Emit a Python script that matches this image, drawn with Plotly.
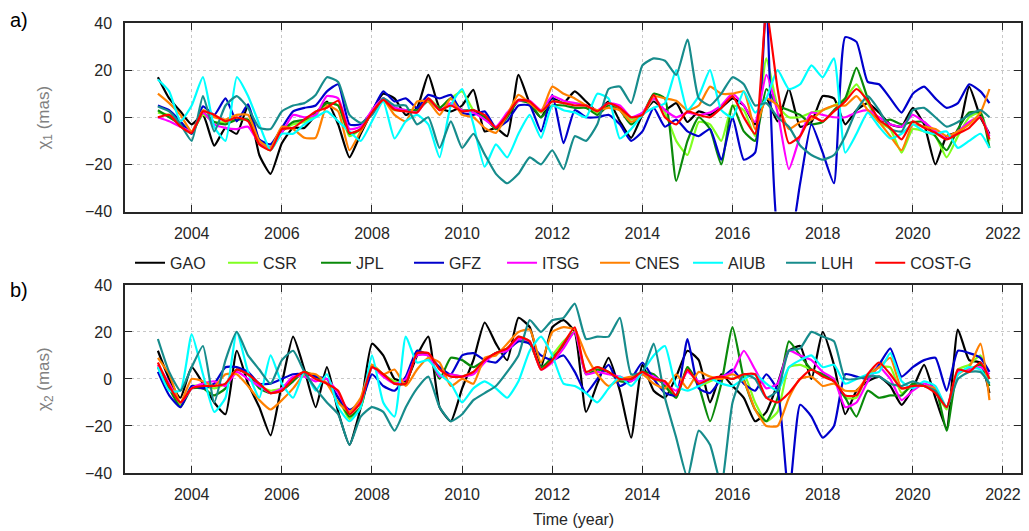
import plotly.graph_objects as go
from plotly.subplots import make_subplots

time = [2003.25, 2003.5, 2003.75, 2004.0, 2004.25, 2004.5, 2004.75, 2005.0, 2005.25, 2005.5,
        2005.75, 2006.0, 2006.25, 2006.5, 2006.75, 2007.0, 2007.25, 2007.5, 2007.75, 2008.0,
        2008.25, 2008.5, 2008.75, 2009.0, 2009.25, 2009.5, 2009.75, 2010.0, 2010.25, 2010.5,
        2010.75, 2011.0, 2011.25, 2011.5, 2011.75, 2012.0, 2012.25, 2012.5, 2012.75, 2013.0,
        2013.25, 2013.5, 2013.75, 2014.0, 2014.25, 2014.5, 2014.75, 2015.0, 2015.25, 2015.5,
        2015.75, 2016.0, 2016.25, 2016.5, 2016.75, 2017.0, 2017.25, 2017.5, 2017.75, 2018.0,
        2018.25, 2018.5, 2018.75, 2019.0, 2019.25, 2019.5, 2019.75, 2020.0, 2020.25, 2020.5,
        2020.75, 2021.0, 2021.25, 2021.5, 2021.7]

centres = ["GAO", "CSR", "JPL", "GFZ", "ITSG", "CNES", "AIUB", "LUH", "COST-G"]

# ---- chi1 (panel a) ----
gao_a = [17, 8, 2.5, -3, 1, -12, -4.5, -7, 5, -16, -24, -11, -4.5, -4.5, 1, 6.7, -3,
         -17, -7, 2.5, 10, 8, 1, 4, 18, 4, 2.5, 5, 11.6, -6, -4.5, -8, 18, 6, 0, 8,
         6, 11, 6.7, 2.5, 6.7, -1.7, -8.7, 1, 6.7, 3, 6, -2, 2.5, 1, 4, 8, 5, -3, 8, -1.7,
         12, -4, -2, 9, 8, -3, 3, 6, 2, -3, -4, 4, -3, -20, -8, -6, 13, 0, -7]
csr_a = [2, 1, -2, -6, 1, -2, -2, -1, -1, -11, -14, -6, -3, -2, 1, 6, 5,
         -8, -5, 2, 7, 3, 3, 3, 8, 4, 8, 11, 3, 0, -5, 1, 7, 6, 2, 7,
         6, 6, 5, 2, 6, 4, -1, 1, 8, 2, -10, -16, -2, -3, -10, 5, 3, -8, 25, 5,
         0, 0, 2, 3, 5, 8, 14, 6, -2, -5, -15, -5, -6, -8, -17, -8, 0, 2, -10]
jpl_a = [3, 0, -3, -7, 2, -2, -3, -1, -1, -10, -13, -6, -2, -1, 2, 6, 5,
         -7, -5, 2, 8, 4, 3, 3, 7, 4, 8, 3, 3, 0, -5, 0, 7, 6, 0, 5,
         5, 4, 4, 1, 5, 3, -3, 1, 10, 8, -27, -10, 0, -5, -20, 5, -6, -10, 12, 5,
         3, 1, -3, -2, 3, 8, 21, 8, -2, -1, -3, -2, -2, -8, -14, -5, 2, 2, -13]
gfz_a = [5, 3, -1.7, -7, 4.6, 1, 8, -1.7, 5.5, -9.4, -11.5, -4.5, 2.5, 4, 5, 11, 14,
         -3, -3, 2.5, 11, 6.7, 8, 4, 9.5, 8, 9.5, 2, 1, 2.5, -4.5, -1.7, 5, 5, -6, 9.5,
         -11, 3, 0, 0, 1, -3, -10, -6, 4, -4, -1, -6, -8, -5, -18, 0, -18, -15, 48, -48,
         -55, -28, -3, -15, -28, 34, 32, 15, 14, 8, 2, 10, 13, 8, 4, 6, 14, 11, 6]
itsg_a = [0, -1.7, -4, -6, 2, -3, -4.5, -5, -4, -11, -13, -6.6, 1, 0, 1, 9, 8,
          -5, -4, 3, 8, 4, 3, 2, 8, 3, 6, 3, 2, -1, -4, 2, 7, 7, 3, 9,
          7, 6, 5, 3, 6, 5, 0, 2, 8, 3, 0, 2, 1, 2, 5, 10, 5, -2, 18, 2,
          -22, -8, 2, 1, 0, 0, 2, 3, 0, -3, -4, 1, -2, -6, -9, -6, -2, 0, -8]
cnes_a = [10, 6, 1, -6, 3, 0, -1, 1, 1, -10, -13, -4, -5, -8.7, -8.7, 5, 2.5,
          -14, -6, 2, 7.4, 1, -1.7, 6.7, 6.7, 1, 8, 1, 0, -4.5, -6.6, 1, 9.5, 6, 2.5, 13,
          10, 8, 5, 3, 4, 3, -2, 1, 9, 8, 7, 3, 5, 13, 10, 10, 11, -5, 8, 5,
          -5, -2, -1, 3, 5, 5, 9, 3, -2, -8, -14, -3, -4, -5, -8, -6, -3, 2, 12]
aiub_a = [16, 11, -1.7, 5, 17, -4, -10, 17, 9, -3, -14, -7, -7, -3, 0, 2.5, -1.7,
          -6, -10, -1.7, 6.7, -9, -1.7, 1, -3, -17, 5, 12, -3, -21, -11.5, -17, -7, 1, -8.7, 5,
          3, 2, 0, 10, 8, -9, -5, 1, 4, 6, 20, 3, 9, 20, 3, 0, 11, 2, 8, 20,
          12, 14, 22, 17, 25, -15, -7, 2, -4, -9, -7, -3, -6, -7, -6, -13, -10, -7, -13]
luh_a = [4.6, 2.5, -3, -10, 9, -6, 5, 9, 4, -4.5, -5, 2.5, 5, 6, 9.5, 17, 15,
         1, -2.4, 1, 8, 5, 5, -3, 0, -13, -1.7, -13, -7, -15.7, -24, -28, -24, -17, -20, -14,
         -22, -8, -10, -3, 12, 13, 6, 22, 25, 24, 18, 33, 8, 5, 10, 17, 14, 5, 6, 0,
         -4, -12, -16, -18, -16, -8, 3, 9, 3, -5, -6, 3, 4, 0, -4, -2, 1, 3, 0]
costg_a = [0, 1, -4, -6.6, 2.5, 1, -1.7, 0, -1.7, -11.5, -14, -5, -4.5, -1, 2.5, 4, 7,
           -6.6, -5, 2, 7.4, 3.2, 2.5, 2, 8, 3, 5, 2.5, 3, 1, -4.5, 1, 7.4, 6.7, 2.5, 6.7,
           6, 5, 5, 2.5, 6, 4, 0, 1, 9.5, 0, -3, 2.5, 1, 0, 4, 9, 0, -7, 45, 12,
           -11, -8, 0.5, -1.7, 2.5, 6.7, 12, 7, -1, -4.5, -9.4, -1.7, -4.5, -6.6, -9.4, -7, -4.5, 0, -9.4]

# ---- chi2 (panel b) ----
gao_b = [12, 0, -8, 5, -2, -10, -15, 12, -2, -12, -24, -2, 18, 4, -12, 5, -14,
         -28, -12, 15, 10, 0, -1, 10, 18, -12, -18, -4, 8, 24, 15, 8, 26, 22, 5, 22,
         25, 20, -14, -2, 9, -5, -25, 6, -5, -8, 1, 12, 8, -10, 2, -3, -8, -18, -14, -2,
         12, 14, 0, 20, 6, -15, -5, -1, 1, -3, -11, -4, 6, -8, -21, 21, 8, 7, -6]
csr_b = [6, -3, -11, -3, -3, -4, -2, 4, 2, -3, -5, -4, 0, 3, 1, -2, -8,
         -17, -12, 6, 2, -1, -2, 12, 10, 1, 2, 1, 3, 8, 11, 12, 18, 16, 4, 10,
         16, 20, 3, 5, 3, 0, 0, 2, 0, -2, -8, 5, -3, -1, 1, 0, 2, -10, -18, -14,
         5, 6, 4, 2, 0, -8, -8, 2, 5, 5, -6, -3, -3, -5, -13, 4, 6, 10, 0]
jpl_b = [5, -4, -12, -4, -4, -7, -4, 4, 2, -4, -6, -5, -1, 3, 1, -2, -8,
         -16, -12, 5, 2, -2, -2, 11, 10, 0, 9, 8, 5, 8, 11, 13, 17, 15, 5, 9,
         14, 20, 2, 4, 3, -1, -1, 3, 2, -3, -8, 5, -3, -18, -2, 22, 0, -13, -18, -8,
         16, 10, 4, 2, -1, -8, -16, -5, -8, -7, -7, -2, -3, -4, -22, 3, 4, 6, -3]
gfz_b = [3, -7, -12, -3, -4, -2, 5, 5, 3, -2, -2, 0, 2, 2, 1, 0, -8,
         -13, -10, 2, -3, -5, 1, 12, 10, 5, 2, 10, 11, 8, 7, 12, 16, 15, 10, 8,
         10, 3, -6, 0, 6, -3, 0, 7, 0, -6, -7, 17, -4, -6, 0, 4, -2, -5, 2, -5,
         -50, -11, -16, -25, -20, 2, 1, 0, 6, 13, 1, 5, 8, 9, -5, 12, 11, 9, 3]
itsg_b = [6, -2, -10, -4, -2, -1, -3, 3, 0, -3, -6, -4, 1, 1, -1, 0, -6,
          -14, -9, 5, 1, -2, 0, 10, 10, 1, 2, 1, 2, 7, 11, 12, 17, 16, 4, 7,
          13, 20, 2, 3, 2, 1, -1, 2, 1, -2, -5, 3, -1, 0, 1, 3, 12, 4, -4, -2,
          12, 10, 8, 3, 0, -12, -10, -1, 5, 0, -9, -5, -2, -4, -12, 3, 4, 5, 2]
cnes_b = [9, 2, -10, 0, -1, -3, 2, 2, -3, -9, -13, -9, -4, 2, 2, -2, -10,
          -14, -8, 6, 2, 4, -3, 4, 9, 7, -3, 0, -2, 9, 10, 15, 20, 21, 7, 20,
          22, 21, 10, 2, -3, 0, 1, 2, -2, -4, 2, -4, 3, 1, 0, 2, -1, -13, -20, -20,
          -8, 0, 1, -3, -2, -5, -5, 1, 5, 9, -4, -3, -3, -4, -12, 2, 5, 15, -9]
aiub_b = [5, -5, -5, 19, 2, -14, -8, 20, 3, -8, 10, -2, -8, 3, -5, 2, -12,
          -18, -12, 10, -10, -16, 18, 7, 8, 2, -2, -10, -4, -1, -4, -8, -1, 12, 18, 10,
          -2, -3, -6, -10, -4, 1, -3, 3, 10, 14, -3, -5, -3, 0, -2, -3, 0, 2, -2, -5,
          5, 8, 10, 5, 6, -2, 0, 2, 3, 11, -1, -4, -1, -3, -12, 2, 5, 4, -2]
luh_b = [17, 3, -5, 5, 14, -10, 8, 20, 10, 4, -2, 8, 12, 3, -4, -10, -15,
         -28, -16, -12, -14, -22, -12, -4, 1, -12, -18, -15, -9, -6, -3, 3, 10, 25, 20, 25,
         26, 32, 17, 18, 18, 26, 2, 3, 15, -8, -25, -42, -22, -28, -45, -10, 2, 0, -8, -5,
         12, 13, 20, 18, 16, 0, 0, 1, 1, -2, -3, -1, -3, -5, -12, 0, 3, 3, -2]
costg_b = [7, -3, -10, -4, -3, -3, -2, 4, 2, -2, -6, -5, 0, 3, 0, -2, -5,
           -15, -10, 5, 2, -2, -2, 11, 11, 4, 1, 1, 3, 8, 11, 13, 18, 16, 4, 8,
           15, 22, 3, 5, 3, 0, 0, 3, 0, -1, -7, 4, -2, 0, 1, 0, 2, 2, -8, -10,
           -6, 0, 4, 1, -1, -7, -7, 2, 7, 2, -4, -3, -3, -6, -12, 4, 3, 7, 0]

colors = ["#000000", "#80FF20", "#0A8A0A", "#0000CC", "#FF00FF",
          "#FF8000", "#00FFFF", "#178C8C", "#FF0000"]

chi1 = [gao_a, csr_a, jpl_a, gfz_a, itsg_a, cnes_a, aiub_a, luh_a, costg_a]
chi2 = [gao_b, csr_b, jpl_b, gfz_b, itsg_b, cnes_b, aiub_b, luh_b, costg_b]

year_ticks = [2004, 2006, 2008, 2010, 2012, 2014, 2016, 2018, 2020, 2022]
y_ticks = [-40, -20, 0, 20, 40]

FONT = "Arial, Liberation Sans, sans-serif"
AX = "#262626"

fig = make_subplots(rows=2, cols=1, vertical_spacing=0.163)

for name, col, ya, yb in zip(centres, colors, chi1, chi2):
    lg = "legend2" if name == "COST-G" else "legend"
    fig.add_trace(go.Scatter(x=time, y=ya, mode="lines", name=name, legendgroup=name,
                             legend=lg,
                             line=dict(color=col, width=2.2, shape="spline", smoothing=0.5)),
                  row=1, col=1)
    fig.add_trace(go.Scatter(x=time, y=yb, mode="lines", name=name, legendgroup=name,
                             showlegend=False, legend=lg,
                             line=dict(color=col, width=2.2, shape="spline", smoothing=0.5)),
                  row=2, col=1)

axis_common = dict(showline=True, linecolor=AX, linewidth=1.5, mirror="ticks",
                   ticks="inside", ticklen=7, tickwidth=1.3, tickcolor=AX,
                   showgrid=True, gridcolor="#c8c8c8", griddash="dot", gridwidth=1,
                   zeroline=False, tickfont=dict(family=FONT, size=16, color=AX))

for r in (1, 2):
    fig.update_xaxes(range=[2002.52, 2022.4], tickvals=year_ticks,
                     ticklabelstandoff=6, row=r, col=1, **axis_common)
    fig.update_yaxes(range=[-40, 40], tickvals=y_ticks, ticklabelstandoff=8,
                     row=r, col=1, **axis_common)

legend_common = dict(orientation="h", yanchor="middle", y=0.467, xanchor="left",
                     itemwidth=30, font=dict(family=FONT, size=16, color=AX),
                     bgcolor="rgba(0,0,0,0)")

fig.update_layout(
    width=1029, height=531,
    margin=dict(l=125, r=6, t=23, b=58),
    paper_bgcolor="white", plot_bgcolor="white",
    font=dict(family=FONT, size=16, color=AX),
    legend=dict(x=0.0056, entrywidth=48, entrywidthmode="pixels", **legend_common),
    legend2=dict(x=0.8317, **legend_common),
    showlegend=True,
)
fig.update_layout(yaxis=dict(domain=[0.581, 1.0]), yaxis2=dict(domain=[0.0, 0.418]))

ann = [
    dict(text="a)", x=-0.1304, y=1.006, xanchor="left", yanchor="middle", font=dict(size=20, color="#000000")),
    dict(text="b)", x=-0.1304, y=0.4067, xanchor="left", yanchor="middle", font=dict(size=20, color="#000000")),
    dict(text="\u03c7<sub>1</sub> (mas)", x=-0.0892, y=0.79, xanchor="center", yanchor="middle",
         textangle=-90, font=dict(size=17, color="#808080")),
    dict(text="\u03c7<sub>2</sub> (mas)", x=-0.0892, y=0.209, xanchor="center", yanchor="middle",
         textangle=-90, font=dict(size=17, color="#808080")),
    dict(text="Time (year)", x=0.5, y=-0.1044, xanchor="center", yanchor="middle",
         font=dict(size=16, color=AX)),
]
for a in ann:
    fig.add_annotation(xref="paper", yref="paper", showarrow=False, **a)

fig.write_html("out.html")
